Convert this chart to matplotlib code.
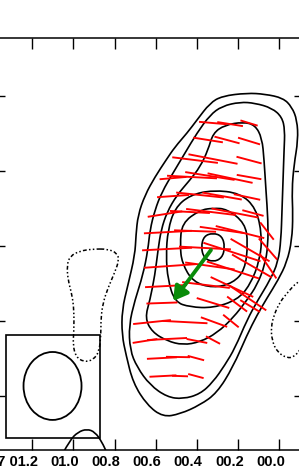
import numpy as np
import matplotlib
matplotlib.use("Agg")
import matplotlib.pyplot as plt
from matplotlib.path import Path
from matplotlib.patches import PathPatch, Ellipse, Rectangle
from matplotlib.transforms import ScaledTranslation

# RA in seconds of time (axis runs right to left), Dec as arcsec offset
ra_ticks = [1.2, 1.0, 0.8, 0.6, 0.4, 0.2, 0.0]
ra_labels = ["07 01.2", "01.0", "00.8", "00.6", "00.4", "00.2", "00.0"]
dec_ticks = [0, 5, 10, 15, 20]

# total intensity contours, outermost first
c1_ra = [0.157, 0.070, -0.018, -0.061, -0.086, -0.091, -0.071, -0.061, -0.066, -0.061, -0.037, 0.006, 0.060,
         0.108, 0.157, 0.225, 0.303, 0.385, 0.482, 0.565, 0.642, 0.710, 0.744, 0.764, 0.764, 0.735, 0.701,
         0.696, 0.686, 0.652, 0.604, 0.550, 0.507, 0.448, 0.400, 0.337, 0.278, 0.157]
c1_dec = [20.2, 20.13, 19.87, 19.27, 18.4, 17.07, 15.4, 13.73, 12.07, 10.4, 8.93, 7.73, 6.53,
          5.4, 4.07, 1.93, 0.2, -0.6, -1.2, -1.4, -0.6, 0.87, 2.73, 4.07, 5.73, 7.4, 9.4,
          10.73, 12.07, 13.4, 14.6, 15.73, 16.6, 17.53, 18.4, 19.53, 20.0, 20.2]

c2_ra = [0.191, 0.118, 0.036, -0.013, -0.027, -0.023, -0.018, -0.013, -0.008, 0.006, 0.045, 0.104, 0.157,
         0.215, 0.264, 0.322, 0.385, 0.468, 0.545, 0.628, 0.691, 0.725, 0.730, 0.701, 0.662, 0.638,
         0.628, 0.604, 0.570, 0.516, 0.458, 0.400, 0.337, 0.278, 0.191]
c2_dec = [19.6, 19.53, 19.2, 18.6, 17.73, 16.4, 14.4, 12.4, 10.4, 8.93, 7.73, 6.4, 5.07,
          3.2, 2.07, 0.93, 0.13, -0.2, -0.07, 0.73, 1.93, 3.07, 4.73, 6.4, 8.07, 9.73,
          11.07, 12.4, 13.6, 14.87, 16.2, 17.53, 18.73, 19.33, 19.6]

c3_ra = [0.176, 0.118, 0.084, 0.074, 0.065, 0.055, 0.055, 0.070, 0.108, 0.157, 0.225, 0.303, 0.385,
         0.468, 0.545, 0.618, 0.652, 0.628, 0.604, 0.589, 0.574, 0.545, 0.497, 0.434, 0.385, 0.346,
         0.322, 0.264, 0.176]
c3_dec = [18.27, 18.07, 17.2, 15.73, 13.73, 11.73, 10.07, 8.73, 7.4, 6.4, 5.2, 4.2, 3.6,
          3.4, 3.67, 4.27, 5.2, 6.4, 8.07, 9.73, 11.07, 12.27, 13.4, 14.4, 15.27, 16.4,
          17.53, 18.07, 18.27]

c4_ra = [0.322, 0.191, 0.113, 0.084, 0.094, 0.142, 0.205, 0.322, 0.434, 0.507, 0.541, 0.550, 0.541,
         0.507, 0.434, 0.322]
c4_dec = [13.73, 13.53, 12.53, 10.73, 9.07, 7.4, 6.4, 5.87, 5.93, 6.27, 7.73, 9.4, 11.07,
          12.53, 13.4, 13.73]

c5_ra = [0.322, 0.254, 0.167, 0.152, 0.167, 0.225, 0.322, 0.419, 0.473, 0.482, 0.473, 0.385, 0.322]
c5_dec = [12.53, 12.47, 11.53, 10.2, 8.4, 7.53, 7.2, 7.6, 8.87, 10.07, 11.53, 12.4, 12.53]

c6_ra = [0.322, 0.278, 0.264, 0.278, 0.322, 0.366, 0.380, 0.366, 0.322]
c6_dec = [10.87, 10.67, 9.93, 9.2, 8.93, 9.2, 9.93, 10.67, 10.87]

# open positive contour at the bottom edge
c7_ra = [1.050, 1.016, 0.977, 0.934, 0.895, 0.861, 0.837]
c7_dec = [-3.8, -2.93, -2.4, -2.2, -2.4, -3.07, -3.8]

# negative contours
n1_ra = [0.905, 0.968, 1.016, 1.031, 1.026, 1.006, 0.997, 0.997, 1.002, 0.987, 0.948, 0.905, 0.875,
         0.866, 0.866, 0.856, 0.832, 0.798, 0.778, 0.788, 0.832, 0.905]
n1_dec = [9.8, 9.67, 9.33, 8.73, 7.73, 6.73, 5.73, 4.4, 3.4, 2.6, 2.27, 2.4, 2.93,
          4.07, 5.2, 6.2, 7.2, 8.27, 9.07, 9.53, 9.8, 9.8]
n2_ra = [-0.115, -0.086, -0.042, -0.003, 0.026, 0.040, 0.036, 0.011, -0.037, -0.071, -0.100, -0.125]
n2_dec = [7.8, 7.6, 6.93, 6.27, 5.4, 4.6, 3.73, 2.93, 2.53, 2.6, 3.07, 3.53]

# polarisation vectors: position, polarised intensity, position angle (deg)
vec_ra = [0.322, 0.239, 0.147,
          0.346, 0.254, 0.147,
          0.409, 0.322, 0.147,
          0.516, 0.424, 0.337, 0.239, 0.147,
          0.516, 0.385, 0.278, 0.157,
          0.555, 0.434, 0.332, 0.215, 0.128,
          0.541, 0.409, 0.278, 0.191, 0.060,
          0.545, 0.361, 0.230, 0.142, 0.055,
          0.531, 0.337, 0.225, 0.133, 0.055,
          0.550, 0.356, 0.230, 0.152,
          0.570, 0.322, 0.205, 0.142,
          0.618, 0.458, 0.317, 0.235,
          0.652, 0.545, 0.400, 0.322,
          0.570, 0.492, 0.405,
          0.565, 0.482, 0.405]
vec_dec = [18.2, 18.13, 18.2,
           17.07, 17.07, 17.0,
           15.73, 15.8, 15.73,
           14.53, 14.6, 14.67, 14.53, 14.6,
           13.33, 13.4, 13.33, 13.27,
           12.13, 12.27, 12.27, 12.2, 12.2,
           10.93, 11.0, 11.07, 10.93, 11.0,
           9.8, 9.87, 9.6, 9.73, 9.8,
           8.67, 8.67, 8.4, 8.67, 8.67,
           7.33, 7.4, 7.27, 6.53,
           6.2, 6.2, 6.13, 6.0,
           4.93, 4.93, 4.93, 5.0,
           3.67, 3.8, 3.67, 3.73,
           2.53, 2.6, 2.53,
           1.33, 1.33, 1.33]
vec_p = [28, 26, 18,
         30, 26, 23,
         46, 50, 26,
         27, 50, 50, 46, 25,
         32, 48, 40, 27,
         35, 40, 50, 48, 22,
         48, 42, 45, 50, 22,
         50, 52, 60, 45, 28,
         52, 50, 55, 46, 30,
         42, 48, 47, 44,
         31, 34, 25, 23,
         38, 45, 28, 20,
         25, 40, 21, 16,
         30, 24, 17,
         27, 16, 16]
vec_pa = [85, 81, 73,
          81, 75, 73,
          83, 79, 75,
          95, 87, 81, 78, 80,
          94, 84, 80, 78,
          99, 87, 83, 79, 75,
          93, 88, 82, 76, 38,
          93, 87, 72, 60, 41,
          94, 82, 72, 60, 34,
          93, 83, 65, 56,
          92, 73, 53, 59,
          96, 87, 70, 51,
          99, 93, 79, 62,
          93, 89, 75,
          93, 88, 75]

# proper motion arrow (start -> end)
arrow_ra = [0.332, 0.516]
arrow_dec = [9.73, 6.33]

# restoring beam and its box
beam_ra, beam_dec = 1.101, 0.67
beam_w, beam_h = 0.2816, 4.53
box_ra = [0.871, 1.327]
box_dec = [-2.8, 4.07]


def smooth_path(xs, ys, closed=True):
    pts = np.column_stack([xs, ys]).astype(float)
    if closed:
        if np.allclose(pts[0], pts[-1]):
            pts = pts[:-1]
        mids = (pts + np.roll(pts, -1, axis=0)) / 2
        verts = [mids[-1]]
        codes = [Path.MOVETO]
        for i in range(len(pts)):
            verts += [pts[i], mids[i]]
            codes += [Path.CURVE3, Path.CURVE3]
    else:
        verts = [pts[0]]
        codes = [Path.MOVETO]
        for i in range(1, len(pts) - 1):
            verts += [pts[i], (pts[i] + pts[i + 1]) / 2]
            codes += [Path.CURVE3, Path.CURVE3]
        verts.append(pts[-1])
        codes.append(Path.LINETO)
    return Path(verts, codes)


fig = plt.figure(figsize=(2.99, 4.69), dpi=100)
ax = fig.add_axes([-6 / 299, 19 / 469, 311 / 299, 412 / 469])

lw = 1.2
for xs, ys in [(c1_ra, c1_dec), (c2_ra, c2_dec), (c3_ra, c3_dec),
               (c4_ra, c4_dec), (c5_ra, c5_dec), (c6_ra, c6_dec)]:
    ax.add_patch(PathPatch(smooth_path(xs, ys), fill=False, edgecolor="black", lw=lw))
ax.add_patch(PathPatch(smooth_path(c7_ra, c7_dec, closed=False), fill=False, edgecolor="black", lw=lw))

neg_style = (0, (2.5, 1.5, 1, 1.5, 1, 1.5))
ax.add_patch(PathPatch(smooth_path(n1_ra, n1_dec), fill=False, edgecolor="black", lw=1.1, linestyle=neg_style))
ax.add_patch(PathPatch(smooth_path(n2_ra, n2_dec, closed=False), fill=False, edgecolor="black", lw=1.1,
                       linestyle=neg_style))

pa = np.radians(vec_pa)
p = np.array(vec_p, dtype=float)
ax.quiver(vec_ra, vec_dec, -np.sin(pa) * p, np.cos(pa) * p, angles="uv", scale_units="dots", scale=1,
          pivot="middle", color="#ff0000", units="dots", width=1.9, headwidth=1, headlength=0,
          headaxislength=0, zorder=3)

ax.annotate("", xy=(arrow_ra[1], arrow_dec[1]), xytext=(arrow_ra[0], arrow_dec[0]),
            arrowprops=dict(arrowstyle="-|>,head_length=0.6,head_width=0.35", color="#0a8c0a",
                            lw=2.8, mutation_scale=14, shrinkA=0, shrinkB=0), zorder=4)

ax.add_patch(Rectangle((box_ra[0], box_dec[0]), box_ra[1] - box_ra[0], box_dec[1] - box_dec[0],
                       fill=False, edgecolor="black", lw=1.2))
ax.add_patch(Ellipse((beam_ra, beam_dec), beam_w, beam_h, fill=False, edgecolor="black", lw=1.3))

ax.set_xlim(1.3851, -0.1246)
ax.set_ylim(-3.6, 23.87)

ax.set_xticks(ra_ticks)
ax.set_xticklabels(ra_labels, fontfamily="Liberation Sans", fontsize=10.5, fontweight="bold")
ax.set_yticks(dec_ticks)
ax.set_yticklabels([])
ax.tick_params(direction="in", length=8, width=1.0, top=True, right=True, pad=3.5)
for lab in ax.get_xticklabels():
    lab.set_horizontalalignment("right")
    lab.set_transform(lab.get_transform() + ScaledTranslation(0.055, 0, fig.dpi_scale_trans))
for s in ax.spines.values():
    s.set_linewidth(1.1)

fig.savefig("out.png", dpi=100)
